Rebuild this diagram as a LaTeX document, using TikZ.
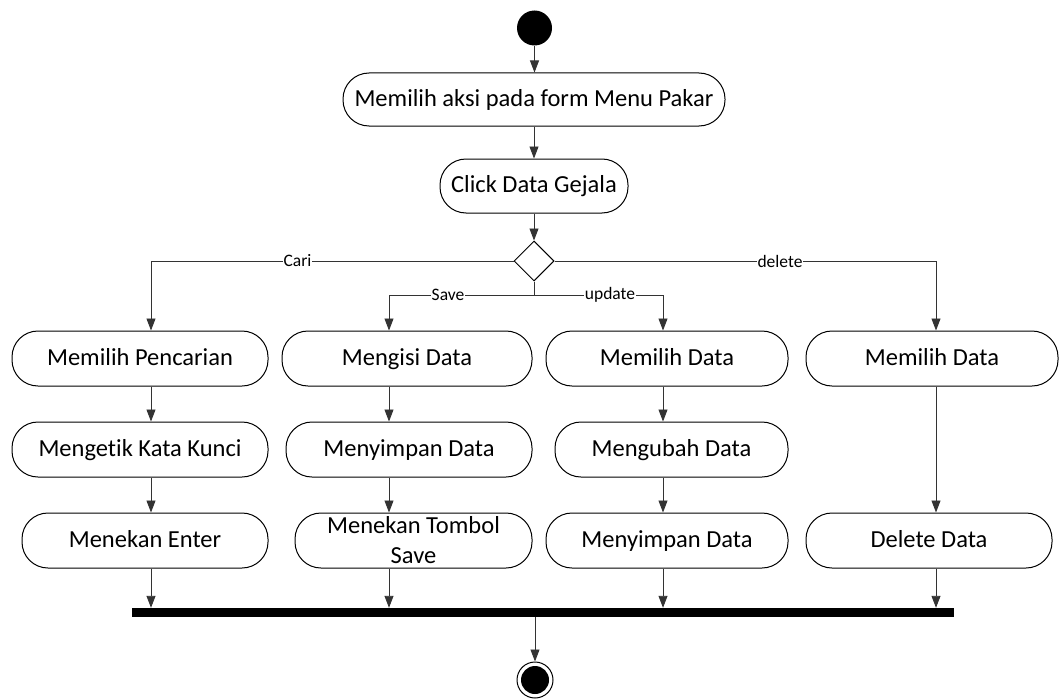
\documentclass[tikz,border=0pt]{standalone}
\usepackage{fontspec}
\setmainfont{Carlito}[Ligatures=NoCommon]
\usetikzlibrary{arrows.meta,shapes.geometric}
\begin{document}
\begin{tikzpicture}[x=1pt,y=-1pt,
 act/.style={draw=black,line width=1pt,rounded corners=26pt,inner sep=0pt,align=center,minimum height=55pt,font=\fontsize{24.5}{30}\selectfont},
 one/.style={text height=18pt,text depth=4.5pt},
 conn/.style={draw=black!80,line width=0.9pt},
 arr/.style={conn,-{Triangle[length=12pt,width=9pt]}},
 lbl/.style={fill=white,inner sep=1pt,font=\fontsize{17.5}{19}\selectfont},
]
\useasboundingbox (0,0) rectangle (1059,698);
% start
\node[circle,fill=black,minimum size=35pt,inner sep=0pt] (start) at (534.5,28) {};
\node[act,one,minimum width=382pt,minimum height=53pt] (a1) at (534,99.5) {Memilih aksi pada form Menu Pakar};
\node[act,one,minimum width=188pt,minimum height=54pt] (a2) at (534,186) {Click Data Gejala};
\node[diamond,draw=black,line width=1pt,minimum width=40pt,minimum height=40pt,inner sep=0pt] (dec) at (534,261) {};
% column anchors
\coordinate (xb) at (151,0);
\coordinate (xc) at (389,0);
\coordinate (xd) at (663,0);
\coordinate (xe) at (936,0);
\coordinate (split) at (534,295);
% row 1
\node[act,one,minimum width=256pt] (b1) at (140,358.5) {Memilih Pencarian};
\node[act,one,minimum width=250pt] (c1) at (407,358.5) {Mengisi Data};
\node[act,one,minimum width=242pt] (d1) at (667,358.5) {Memilih Data};
\node[act,one,minimum width=252pt] (e1) at (932,358.5) {Memilih Data};
% row 2
\node[act,one,minimum width=256pt] (b2) at (140,449.5) {Mengetik Kata Kunci};
\node[act,one,minimum width=246pt] (c2) at (409,449.5) {Menyimpan Data};
\node[act,one,minimum width=233pt] (d2) at (671.5,449.5) {Mengubah Data};
% row 3
\node[act,one,minimum width=246pt] (b3) at (145,540.5) {Menekan Enter};
\node[act,minimum width=237pt] (c3) at (413.5,540.5) {Menekan Tombol\\Save};
\node[act,one,minimum width=242pt] (d3) at (667,540.5) {Menyimpan Data};
\node[act,one,minimum width=246pt] (e3) at (929,540.5) {Delete Data};
% join bar and end
\node[fill=black,minimum width=822pt,minimum height=9pt,inner sep=0pt] (bar) at (543,612.5) {};
\node[circle,draw=black,line width=1pt,minimum size=36pt,inner sep=0pt] (end) at (535,680) {};
\node[circle,fill=black,minimum size=28pt,inner sep=0pt] (endin) at (end) {};
% connectors
\draw[arr] (start.south) -- (start.south |- a1.north);
\draw[arr] (a1.south -| dec) -- (a2.north -| dec);
\draw[arr] (a2.south -| dec) -- (dec.north);
\draw[arr] (dec.west) -| (b1.north -| xb);
\draw[arr] (dec.east) -| (e1.north -| xe);
\draw[conn] (dec.south) -- (split);
\draw[arr] (split) -| (c1.north -| xc);
\draw[arr] (split) -| (d1.north -| xd);
\foreach \c/\a/\b in {b/1/2,b/2/3,c/1/2,c/2/3,d/1/2,d/2/3,e/1/3}{
  \draw[arr] (\c\a.south -| x\c) -- (\c\b.north -| x\c);
}
\foreach \c in {b,c,d,e}{
  \draw[arr] (\c3.south -| x\c) -- (bar.north -| x\c);
}
\draw[arr] (bar.south -| end) -- (end.north);
% labels
\node[lbl] (lcari) at (297.5,261) {Cari};
\node[lbl] (ldel) at (780,261) {delete};
\node[lbl] (lsave) at (448,295) {Save};
\node[lbl] (lupd) at (610,295) {update};
\end{tikzpicture}
\end{document}
